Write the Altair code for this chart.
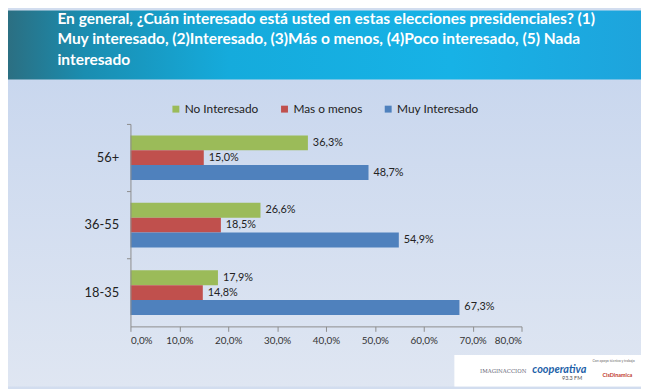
import altair as alt
import pandas as pd

ages = ["56+", "36-55", "18-35"]
series = ["No Interesado", "Mas o menos", "Muy Interesado"]
no_interesado = [36.3, 26.6, 17.9]
mas_o_menos = [15.0, 18.5, 14.8]
muy_interesado = [48.7, 54.9, 67.3]
colors = ["#9bbb59", "#c0504d", "#4f81bd"]
x_ticks = [0, 10, 20, 30, 40, 50, 60, 70, 80]
title_lines = [
    "En general, ¿Cuán interesado está usted en estas elecciones presidenciales? (1)",
    "Muy interesado, (2)Interesado, (3)Más o menos, (4)Poco interesado, (5) Nada",
    "interesado",
]

rows = []
for i, a in enumerate(ages):
    for s, vals in zip(series, [no_interesado, mas_o_menos, muy_interesado]):
        rows.append({"age": a, "serie": s, "value": vals[i]})
df = pd.DataFrame(rows)
one = pd.DataFrame({"k": [0]})

FONT = "Lato"

bg = alt.Chart(one).mark_rect(
    fill=alt.Gradient(
        gradient="linear",
        stops=[alt.GradientStop(color="#c9d7ee", offset=0),
               alt.GradientStop(color="#dfe6f2", offset=1)],
        x1=0, x2=0, y1=0, y2=1,
    )
).encode(x=alt.value(-124), x2=alt.value(517), y=alt.value(-45), y2=alt.value(266))

header = alt.Chart(one).mark_rect(
    fill=alt.Gradient(
        gradient="linear",
        stops=[alt.GradientStop(color="#2b6f82", offset=0),
               alt.GradientStop(color="#1a8db0", offset=0.12),
               alt.GradientStop(color="#15abdc", offset=0.35),
               alt.GradientStop(color="#17b2e6", offset=0.7),
               alt.GradientStop(color="#1ea4dc", offset=1)],
        x1=0, x2=1, y1=0, y2=0,
    )
).encode(x=alt.value(-124), x2=alt.value(517), y=alt.value(-115), y2=alt.value(-45))

header_text = alt.Chart(one).mark_text(
    align="left", baseline="alphabetic", lineHeight=20.5, font=FONT,
    fontWeight="bold", fontSize=15.7, color="white"
).encode(text=alt.value(title_lines), x=alt.value(-74), y=alt.value(-101))

logo_box = alt.Chart(one).mark_rect(fill="#ffffff").encode(
    x=alt.value(328), x2=alt.value(517), y=alt.value(234), y2=alt.value(266)
)
logo1 = alt.Chart(one).mark_text(font="DejaVu Serif", fontSize=5.5, color="#6a6a7a", align="left").encode(
    text=alt.value("IMAGINACCION"), x=alt.value(354), y=alt.value(250))
logo2 = alt.Chart(one).mark_text(font=FONT, fontSize=11, fontWeight="bold", fontStyle="italic",
                                 color="#1d5fa8", align="left").encode(
    text=alt.value("cooperativa"), x=alt.value(407), y=alt.value(249))
logo3 = alt.Chart(one).mark_text(font=FONT, fontSize=5.5, color="#555", align="left").encode(
    text=alt.value("93.3 FM"), x=alt.value(437), y=alt.value(257))
logo4 = alt.Chart(one).mark_text(font=FONT, fontSize=3.5, color="#666", align="left").encode(
    text=alt.value("Con apoyo técnico y trabajo"), x=alt.value(468), y=alt.value(240))
logo5 = alt.Chart(one).mark_text(font=FONT, fontSize=5.5, fontWeight="bold", color="#c0392b", align="left").encode(
    text=alt.value("CisDinamica"), x=alt.value(478), y=alt.value(254))

base = alt.Chart(df).transform_calculate(
    label="replace(format(datum.value, '.1f'), '.', ',') + '%'"
)

x_enc = alt.X(
    "value:Q",
    scale=alt.Scale(domain=[0, 80]),
    axis=alt.Axis(
        values=x_ticks, title=None, grid=False, zindex=2,
        labelExpr="replace(format(datum.value, '.1f'), '.', ',') + '%'",
        labelFontSize=10, labelColor="#333333", labelFont=FONT, labelPadding=4,
        tickSize=5, tickColor="#8c8c8c", domainColor="#8c8c8c",
    ),
)
y_enc = alt.Y(
    "age:N", sort=ages,
    scale=alt.Scale(paddingInner=0, paddingOuter=0),
    axis=alt.Axis(
        title=None, bandPosition=0, tickSize=4, tickColor="#8c8c8c", domainColor="#8c8c8c",
        labelFontSize=13, labelColor="#222222", labelFont=FONT, labelPadding=8, zindex=2,
    ),
)
yoff_enc = alt.YOffset("serie:N", sort=series, scale=alt.Scale(paddingInner=0, paddingOuter=0.77))

bars = base.mark_bar().encode(
    x=x_enc, y=y_enc, yOffset=yoff_enc,
    color=alt.Color(
        "serie:N", sort=series,
        scale=alt.Scale(domain=series, range=colors),
        legend=alt.Legend(
            title=None, orient="none", legendX=40, legendY=-21, direction="horizontal",
            symbolType="square", symbolSize=49, symbolStrokeWidth=0,
            labelFontSize=12, labelFont=FONT, labelColor="#222222",
            labelOffset=3, columnPadding=20, zindex=2,
        ),
    ),
)

labels = base.mark_text(align="left", baseline="middle", dx=5, fontSize=11, font=FONT, color="#222222").encode(
    x="value:Q", y=alt.Y("age:N", sort=ages), yOffset=alt.YOffset("serie:N", sort=series), text="label:N"
)

chart = alt.layer(
    bg, header, header_text, logo_box, logo1, logo2, logo3, logo4, logo5, bars, labels
).properties(
    width=396, height=205,
    autosize=alt.AutoSizeParams(type="none"),
    padding={"left": 124, "top": 115, "right": 121, "bottom": 61},
    background="#d2ddef",
).configure_view(stroke=None)

chart.save("out.html", embed_options={"renderer": "svg", "actions": False})
